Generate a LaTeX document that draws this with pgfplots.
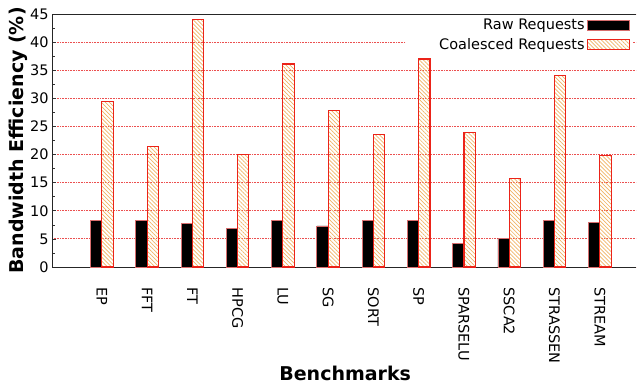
\documentclass[border=0pt]{standalone}
\usepackage{pgfplots}
\pgfplotsset{compat=1.18}
\usepackage{fontspec}
\setmainfont{DejaVu Sans}
\usetikzlibrary{patterns.meta}
\definecolor{gridred}{RGB}{235,80,80}
\definecolor{barred}{RGB}{235,35,25}
\definecolor{hatch}{RGB}{240,180,100}
\definecolor{rawedge}{RGB}{215,110,110}
\pgfplotsset{mylegend/.style={legend image code/.code={\draw[##1] (0bp,-5bp) rectangle (42bp,5bp);}}}
\begin{document}
\begin{tikzpicture}
\useasboundingbox (-52bp,-118bp) rectangle (585bp,267bp);
\begin{axis}[
  at={(0,0)}, anchor=south west,
  scale only axis, width=584bp, height=253bp,
  xmin=-1.1, xmax=11.8, ymin=0, ymax=45,
  axis x line*=box, axis y line*=left,
  axis line style={black!85, line width=0.8bp},
  xtick={0,...,11},
  xticklabels={EP,FFT,FT,HPCG,LU,SG,SORT,SP,SPARSELU,SSCA2,STRASSEN,STREAM},
  xtick style={draw=none},
  xticklabel style={rotate=-90, anchor=west},
  xticklabel shift=17bp,
  ytick={0,5,...,45},
  minor y tick num=1,
  tick align=inside,
  major tick length=4bp, minor tick length=3bp,
  ytick style={black!80, line width=0.6bp},
  ymajorgrids,
  grid style={gridred, dash pattern=on 0.8bp off 0.8bp, line width=0.8bp},
  tick label style={font=\fontsize{14.5bp}{17bp}\selectfont},
  /pgf/number format/assume math mode=true,
  xlabel={Benchmarks},
  ylabel={Bandwidth Efficiency (\%)},
  label style={font=\fontsize{19bp}{22bp}\selectfont\bfseries},
  xlabel style={at={(axis description cs:0.502,-0.419)}, anchor=center},
  ylabel style={at={(axis description cs:-0.0582,0.5)}, anchor=center},
  legend style={at={(rel axis cs:1,1)}, anchor=north east, xshift=-3bp, yshift=-1bp,
    draw=none, fill=white, legend plot pos=right, legend cell align=right,
    font=\fontsize{14.5bp}{17bp}\selectfont, row sep=3bp},
]
\addplot[ybar, bar width=0.25, bar shift=-0.125, fill=black, draw=rawedge, line width=0.8bp, mylegend]
  coordinates {(0,8.25) (1,8.2) (2,7.8) (3,6.8) (4,8.2) (5,7.3) (6,8.2) (7,8.3) (8,4.2) (9,5.15) (10,8.2) (11,7.9)};
\addplot[ybar, bar width=0.25, bar shift=0.125, draw=barred, line width=1.1bp,
  pattern={Lines[angle=-45,distance=2.8bp,line width=0.7bp]}, pattern color=hatch, mylegend]
  coordinates {(0,29.4) (1,21.4) (2,44.0) (3,20.0) (4,36.1) (5,27.8) (6,23.6) (7,37.0) (8,23.9) (9,15.7) (10,34.1) (11,19.9)};
\legend{\hspace*{28bp}Raw Requests, \hspace*{28bp}Coalesced Requests}
\end{axis}
\end{tikzpicture}
\end{document}
